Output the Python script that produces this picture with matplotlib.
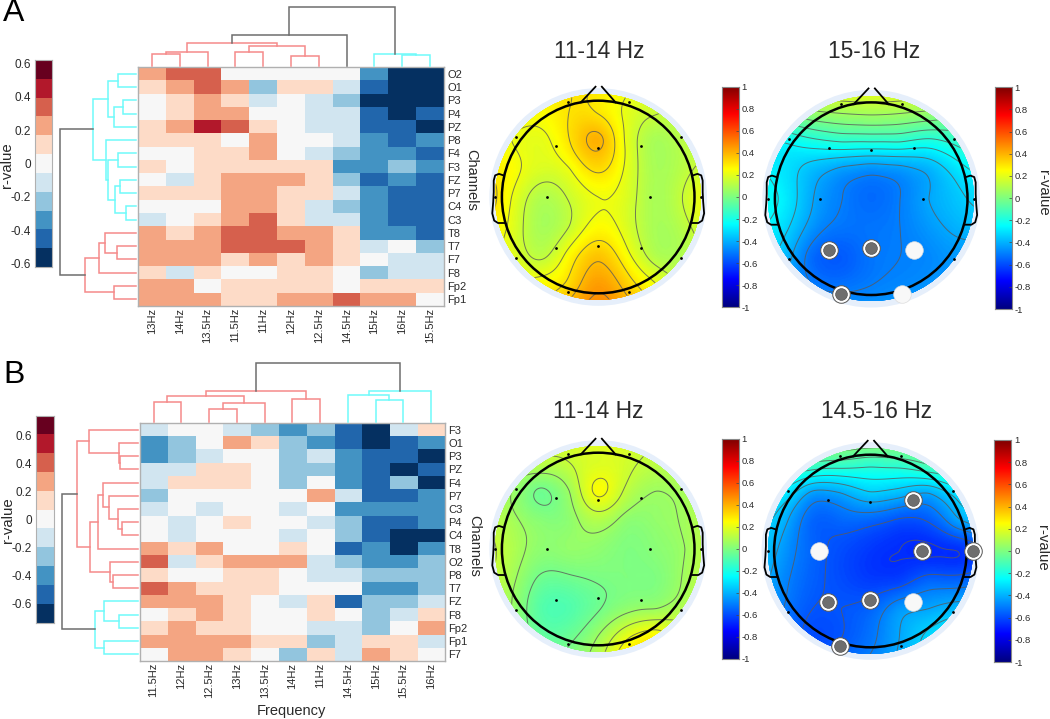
import numpy as np
import matplotlib
matplotlib.use("Agg")
import matplotlib.pyplot as plt
from matplotlib.colors import ListedColormap, BoundaryNorm, LinearSegmentedColormap
from matplotlib.patches import Ellipse

plt.rcParams['font.family'] = ['Liberation Sans', 'DejaVu Sans']

W, H = 1050, 719
# ---------------------------------------------------------------- data
LEVEL_COLORS = ['#053061', '#2166ac', '#4393c3', '#92c5de', '#d1e5f0', '#f7f7f7',
                '#fddbc7', '#f4a582', '#d6604d', '#b2182b', '#67001f']

cols_a = ['13Hz', '14Hz', '13.5Hz', '11.5Hz', '11Hz', '12Hz', '12.5Hz', '14.5Hz', '15Hz', '16Hz', '15.5Hz']
rows_a = ['O2', 'O1', 'P3', 'P4', 'PZ', 'P8', 'F4', 'F3', 'FZ', 'P7', 'C4', 'C3', 'T8', 'T7', 'F7', 'F8', 'Fp2', 'Fp1']
heat_a = [
    [2, 3, 3, 0, 0, 0, 0, 0, -3, -5, -5],
    [1, 2, 3, 2, -2, 1, 1, -1, -4, -5, -5],
    [0, 1, 2, 1, -1, 0, -1, -2, -5, -5, -5],
    [0, 1, 2, 2, 0, 0, -1, -1, -4, -5, -4],
    [1, 2, 4, 3, 1, 0, -1, -1, -4, -4, -5],
    [1, 1, 1, 0, 2, 0, 0, -1, -3, -4, -3],
    [0, 0, 1, 1, 2, 0, -1, -2, -3, -3, -4],
    [1, 0, 1, 1, 1, 1, 1, -3, -3, -2, -3],
    [0, -1, 1, 2, 2, 2, 1, -2, -4, -3, -4],
    [1, 1, 1, 2, 2, 1, 1, -1, -3, -4, -4],
    [0, 0, 0, 2, 2, 1, -1, -2, -3, -4, -4],
    [-1, 0, 1, 2, 3, 1, -1, -1, -3, -4, -4],
    [2, 1, 2, 3, 3, 2, 2, 1, -3, -3, -4],
    [2, 2, 2, 3, 3, 3, 2, 1, -1, 0, -2],
    [2, 2, 2, 1, 2, 1, 2, 1, 0, -1, -1],
    [1, -1, 1, 0, 0, 1, 1, 0, -2, -1, -1],
    [2, 2, 0, 1, 1, 1, 1, 0, 1, 1, 1],
    [2, 2, 2, 1, 1, 2, 2, 3, 2, 2, 0],
]

cols_b = ['11.5Hz', '12Hz', '12.5Hz', '13Hz', '13.5Hz', '14Hz', '11Hz', '14.5Hz', '15Hz', '15.5Hz', '16Hz']
rows_b = ['F3', 'O1', 'P3', 'PZ', 'F4', 'P7', 'C3', 'P4', 'C4', 'T8', 'O2', 'P8', 'T7', 'FZ', 'F8', 'Fp2', 'Fp1', 'F7']
heat_b = [
    [-1, 0, 0, -1, -2, -3, -2, -4, -5, -1, 1],
    [-3, -2, 0, 2, 1, -2, -3, -4, -5, -4, -3],
    [-3, -2, -1, 0, 0, -2, -1, -3, -4, -4, -5],
    [-1, -1, 1, 1, 0, -2, -2, -3, -4, -5, -4],
    [-1, 1, 1, 1, 0, -2, 0, -3, -4, -2, -5],
    [-2, 0, 0, 0, 0, 0, 2, -1, -4, -4, -3],
    [-1, 0, -1, 0, 0, -1, 0, -3, -3, -3, -3],
    [0, -1, 0, 1, 0, 0, -1, -2, -4, -4, -3],
    [0, -1, 0, 0, 0, -1, 0, -2, -4, -5, -5],
    [2, 1, 2, 0, 0, 1, 0, -4, -3, -5, -3],
    [3, -1, 1, 2, 2, 2, -1, -2, -3, -3, -2],
    [1, 0, 0, 1, 1, 0, -1, -1, -2, -2, -2],
    [3, 2, 1, 1, 1, 0, 0, 0, -3, -3, -2],
    [2, 2, 2, 1, 0, -1, 1, -4, -2, -2, -1],
    [0, 1, 2, 1, 0, 0, 1, 0, -2, -1, 1],
    [1, 2, 1, 1, 0, 0, -1, -1, -2, 0, 2],
    [2, 2, 2, 2, 1, 1, -2, -1, 1, 1, -1],
    [0, 2, 2, 1, 0, -2, 1, -1, 2, 1, 0],
]

# dendrograms: (height, colour, left, right); an int is a leaf position
K, R_, C_ = '#6e6e6e', '#f58a8a', '#6ffafa'
tree_top_a = (59, K,
              (31, K,
               (22.5, R_, (14, R_, (11.5, R_, 0, 1), 2),
                (20, R_, (13.5, R_, 3, 4), (10, R_, 5, 6))),
               7),
              (11.5, C_, 8, (10.5, C_, 9, 10)))
tree_left_a = (76, K,
               (42.7, C_,
                (27.7, C_, (17.7, C_, 0, 1), (21.7, C_, (12.7, C_, 2, 3), 4)),
                (30, C_, 5,
                 (27.7, C_, (17.7, C_, 6, 7),
                  (21, C_, (16, C_, 8, 9), (10, C_, 10, 11))))),
               (51, R_,
                (37.3, R_, (30.7, R_, 12, (18.7, R_, 13, 14)), 15),
                (22, R_, 16, 17)))
tree_top_b = (59, K,
              (30.7, R_,
               (25.7, R_, (19.7, R_, 0, 1),
                (19, R_, (12.3, R_, 2, 3), 4)),
               (23, R_, 5, 6)),
              (30.7, C_, (26.7, C_, 7, (21.3, C_, 8, 9)), 10))
tree_left_b = (75.7, K,
               (61, R_,
                (49, R_, 0, (19, R_, 1, (17.3, R_, 2, 3))),
                (47.3, R_,
                 (39.7, R_,
                  (35, R_, 4, (29, R_, 5, (20, R_, 6, (15.7, R_, 7, 8)))),
                  9),
                 (27.3, R_, 10, (24.7, R_, 11, 12)))),
               (42.3, C_,
                (34, C_, 13, (19, C_, 14, 15)),
                (34, C_, 16, 17)))

# scalp maps: r-values on a coarse grid (top row first)
grid_axis = [-1.2, -0.9, -0.6, -0.3, 0.0, 0.3, 0.6, 0.9, 1.2]
topo_a1 = [
    [.22, .24, .26, .30, .30, .24, .18, .14, .13],
    [.23, .25, .25, .30, .29, .20, .15, .13, .13],
    [.25, .22, .20, .30, .40, .20, .08, .12, .14],
    [.29, .25, .18, .22, .32, .20, .08, .12, .17],
    [.36, .22, .10, .15, .22, .18, .08, .15, .26],
    [.30, .20, .08, .14, .25, .18, .08, .12, .22],
    [.24, .20, .12, .25, .36, .24, .10, .10, .16],
    [.25, .24, .25, .32, .44, .34, .22, .13, .15],
    [.30, .30, .32, .42, .50, .42, .30, .18, .18],
]
topo_a2 = [
    [.20, .20, .22, .24, .24, .24, .22, .20, .20],
    [-.10, .00, .05, .07, .08, .07, .05, .00, -.10],
    [-.25, -.25, -.20, -.17, -.17, -.17, -.20, -.15, -.10],
    [-.25, -.30, -.38, -.44, -.47, -.45, -.40, -.30, -.22],
    [-.22, -.28, -.42, -.50, -.54, -.50, -.42, -.36, -.30],
    [-.25, -.32, -.46, -.52, -.52, -.50, -.45, -.40, -.38],
    [-.30, -.38, -.54, -.57, -.52, -.50, -.48, -.45, -.45],
    [-.38, -.42, -.50, -.52, -.50, -.48, -.46, -.44, -.46],
    [-.40, -.42, -.42, -.44, -.44, -.43, -.42, -.40, -.40],
]
topo_b1 = [
    [.16, .16, .17, .18, .20, .18, .14, .12, .12],
    [.16, .12, .12, .14, .18, .16, .12, .12, .12],
    [.14, .06, -.03, .06, .24, .12, .06, .08, .12],
    [.14, .08, .02, .03, .10, .03, .04, .07, .13],
    [.17, .10, .03, .04, .03, .00, .02, .06, .15],
    [.16, .08, -.03, -.03, -.01, .00, .00, .07, .15],
    [.15, .06, -.08, -.09, -.03, .03, .05, .10, .15],
    [.14, .06, -.05, -.04, .06, .20, .26, .18, .15],
    [.14, .08, .00, .02, .12, .30, .34, .20, .15],
]
topo_b2 = [
    [.12, .10, .10, .10, .08, .08, .05, .05, .05],
    [-.05, -.08, -.12, -.14, -.16, -.15, -.10, -.05, .00],
    [-.22, -.28, -.44, -.42, -.35, -.38, -.42, -.30, -.15],
    [-.28, -.40, -.55, -.55, -.56, -.60, -.58, -.45, -.35],
    [-.32, -.45, -.55, -.60, -.64, -.66, -.67, -.66, -.60],
    [-.36, -.48, -.56, -.60, -.63, -.62, -.55, -.55, -.50],
    [-.38, -.50, -.58, -.58, -.55, -.45, -.42, -.38, -.38],
    [-.42, -.52, -.60, -.58, -.52, -.42, -.32, -.25, -.22],
    [-.42, -.48, -.55, -.52, -.48, -.40, -.30, -.22, -.20],
]
# electrode positions on the head (head radius = 1)
electrodes = {
    'Fp1': (-.315, .986), 'Fp2': (.315, .986), 'F7': (-.855, .625), 'F3': (-.44, .53),
    'FZ': (0, .507), 'F4': (.44, .53), 'F8': (.855, .625), 'T7': (-1.067, 0),
    'C3': (-.535, 0), 'C4': (.535, 0), 'T8': (1.067, 0), 'P3': (-.44, -.53),
    'PZ': (0, -.51), 'P4': (.44, -.53), 'P7': (-.855, -.63), 'P8': (.855, -.63),
    'O1': (-.315, -.986), 'O2': (.315, -.986),
}
sig_a2_grey = ['P3', 'PZ', 'O1']
sig_a2_white = ['P4', 'O2']
sig_b2_grey = ['F4', 'C4', 'T8', 'P3', 'PZ', 'O1']
sig_b2_white = ['C3', 'P4']
topo_ticks = [1, .8, .6, .4, .2, 0, -.2, -.4, -.6, -.8, -1]
topo_ticklabels = ['1', '0.8', '0.6', '0.4', '0.2', '0', '-0.2', '-0.4', '-0.6', '-0.8', '-1']
heat_cb_ticks = [.6, .4, .2, 0, -.2, -.4, -.6]
heat_cb_labels = ['0.6', '0.4', '0.2', '0', '-0.2', '-0.4', '-0.6']
# head outline pieces
nose_left = ([-.18, -.028], [.983, 1.145])
nose_right = ([.18, .038], [.983, 1.145])
ear_x = [.985, 1.03, 1.07, 1.085, 1.085, 1.09, 1.10, 1.08, 1.04, .975]
ear_y = [.225, .24, .225, .17, .05, -.05, -.17, -.245, -.27, -.27]
scalp_anchors = [(0.0, (0, 0, .5)), (.125, (0, 0, 1)), (.375, (0, 1, 1)), (.5, (.5, 1, .5)),
                 (.625, (1, 1, 0)), (.875, (1, 0, 0)), (1.0, (.5, 0, 0))]

# ---------------------------------------------------------------- helpers
fig = plt.figure(figsize=(W / 100, H / 100), dpi=100, facecolor='white')
TXT = '#2a2a2a'
GREY = '#b0b0b0'
scalp_cmap = LinearSegmentedColormap.from_list('scalp', scalp_anchors, N=256)


def axpx(x0, y0, x1, y1):
    return fig.add_axes([x0 / W, 1 - y1 / H, (x1 - x0) / W, (y1 - y0) / H])


def ftext(x, y, s, **kw):
    kw.setdefault('ha', 'center')
    kw.setdefault('va', 'center')
    kw.setdefault('color', TXT)
    fig.text(x / W, 1 - y / H, s, **kw)


def walk(node, links):
    if not isinstance(node, tuple):
        return node + 0.5, 0.0
    h, col, left, right = node
    pl, hl = walk(left, links)
    pr, hr = walk(right, links)
    links.append(([pl, pl, pr, pr], [hl, h, h, hr], col))
    return (pl + pr) / 2, h


def dendro(box, tree, n, vertical_leaves):
    ax = axpx(*box)
    ax.axis('off')
    links = []
    walk(tree, links)
    for pos, hgt, col in links:
        if vertical_leaves:
            ax.plot(pos, hgt, color=col, lw=1.1, solid_joinstyle='miter', clip_on=False)
        else:
            ax.plot(hgt, pos, color=col, lw=1.1, solid_joinstyle='miter', clip_on=False)
    if vertical_leaves:
        ax.set_xlim(0, n)
        ax.set_ylim(0, box[3] - box[1])
    else:
        ax.set_ylim(n, 0)
        ax.set_xlim(box[2] - box[0], 0)


level_cmap = ListedColormap(LEVEL_COLORS)
level_norm = BoundaryNorm(np.arange(-5.5, 6.5, 1), 11)


def heatmap(box, data, rows, cols):
    ax = axpx(*box)
    ax.imshow(np.array(data), cmap=level_cmap, norm=level_norm, aspect='auto',
              interpolation='nearest', extent=(0, len(cols), len(rows), 0))
    ax.set_xticks(np.arange(len(cols)) + .5, cols, rotation=90, fontsize=8, color=TXT)
    ax.set_yticks(np.arange(len(rows)) + .5, rows, fontsize=8, color=TXT)
    ax.yaxis.tick_right()
    ax.tick_params(axis='x', length=0, pad=1.5)
    ax.tick_params(axis='y', length=0, pad=2.5)
    for s in ax.spines.values():
        s.set_color(GREY)
        s.set_linewidth(1)
    return ax


def heat_colorbar(box, rmax):
    ax = axpx(*box)
    ax.imshow(np.arange(5, -6, -1).reshape(-1, 1), cmap=level_cmap, norm=level_norm,
              aspect='auto', interpolation='nearest', extent=(0, 1, -rmax, rmax))
    ax.set_xticks([])
    ax.set_yticks(heat_cb_ticks, heat_cb_labels, fontsize=8.5, color=TXT)
    ax.tick_params(length=0, pad=3)
    for s in ax.spines.values():
        s.set_color(GREY)


def tps(values, n=241):
    gx, gy = np.meshgrid(grid_axis, grid_axis[::-1])
    px, py = gx.ravel(), gy.ravel()
    v = np.array(values, float).ravel()

    def kern(d2):
        return np.where(d2 > 0, d2 * np.log(np.maximum(d2, 1e-12)) / 2, 0.0)

    d2 = (px[:, None] - px[None, :]) ** 2 + (py[:, None] - py[None, :]) ** 2
    P = np.c_[np.ones_like(px), px, py]
    m = len(v)
    A = np.block([[kern(d2), P], [P.T, np.zeros((3, 3))]])
    w = np.linalg.solve(A, np.r_[v, np.zeros(3)])
    xs = np.linspace(-1.2, 1.2, n)
    X, Y = np.meshgrid(xs, xs)
    D2 = (X.ravel()[:, None] - px[None, :]) ** 2 + (Y.ravel()[:, None] - py[None, :]) ** 2
    Z = kern(D2) @ w[:m] + w[m] + w[m + 1] * X.ravel() + w[m + 2] * Y.ravel()
    return X, Y, Z.reshape(X.shape)


def topo(cx, cy, values, grey=(), white=()):
    r = 96.3
    ax = axpx(cx - 1.2 * r, cy - 1.2 * r, cx + 1.2 * r, cy + 1.2 * r)
    ax.set_xlim(-1.2, 1.2)
    ax.set_ylim(-1.2, 1.2)
    ax.axis('off')
    ax.add_patch(Ellipse((0, 0), 2 * 1.13, 2 * 1.13, fc='#e6effb', ec='none', zorder=0))
    field = Ellipse((0, 0), 2 * 1.067, 2 * 1.067, fc='none', ec='none', zorder=1)
    ax.add_patch(field)
    X, Y, Z = tps(values)
    mesh = ax.pcolormesh(X, Y, Z, cmap=scalp_cmap, vmin=-1, vmax=1, shading='gouraud', zorder=1)
    mesh.set_clip_path(field)
    cs = ax.contour(X, Y, Z, levels=np.arange(-.98, 1, .08), colors='#5a5a5a',
                    linewidths=.7, linestyles='solid', alpha=.8, zorder=2)
    cs.set_clip_path(field)
    ax.add_patch(Ellipse((0, 0), 2, 2, fc='none', ec='black', lw=1.8, zorder=3))
    ax.plot(*nose_left, color='black', lw=1.3, zorder=3)
    ax.plot(*nose_right, color='black', lw=1.3, zorder=3)
    for sign in (-1, 1):
        ax.plot(sign * np.array(ear_x), ear_y, color='black', lw=1.3, zorder=3, clip_on=False)
    ex = [p[0] for p in electrodes.values()]
    ey = [p[1] for p in electrodes.values()]
    ax.scatter(ex, ey, s=4, c='black', lw=0, zorder=4, clip_on=False)
    for name in white:
        x, y = electrodes[name]
        ax.scatter(x, y, s=160, c='#f8f8f8', ec='#dddddd', lw=.5, zorder=5, clip_on=False)
    for name in grey:
        x, y = electrodes[name]
        ax.scatter(x, y, s=160, c='white', ec='#555555', lw=.7, zorder=5, clip_on=False)
        ax.scatter(x, y, s=72, c='#6e6e6e', ec='#444444', lw=.4, zorder=6, clip_on=False)


def topo_colorbar(box):
    ax = axpx(*box)
    ax.imshow(np.linspace(1, -1, 256).reshape(-1, 1), cmap=scalp_cmap, vmin=-1, vmax=1,
              aspect='auto', extent=(0, 1, -1, 1))
    ax.set_xticks([])
    ax.yaxis.tick_right()
    ax.set_yticks(topo_ticks, topo_ticklabels, fontsize=6.8, color=TXT)
    ax.tick_params(length=2, width=.5, direction='in', color='#444444', pad=2)
    for s in ax.spines.values():
        s.set_color('#888888')
        s.set_linewidth(.8)


# ---------------------------------------------------------------- panel A
heatmap((138, 67.3, 444, 305.7), heat_a, rows_a, cols_a)
dendro((138, 5.7, 444, 65.7), tree_top_a, 11, True)
dendro((58, 67.3, 136, 305.7), tree_left_a, 18, False)
heat_colorbar((35, 60, 52, 267), .618)
ftext(7, 165, 'r-value', rotation=90, fontsize=10.8)
ftext(471, 180, 'Channels', rotation=-90, fontsize=10.5)
ftext(14, 13, 'A', fontsize=23, color='black')

topo(598.2, 197, topo_a1)
topo(871.2, 198.7, topo_a2, sig_a2_grey, sig_a2_white)
topo_colorbar((721.5, 86.7, 739, 307.3))
topo_colorbar((994.6, 87.3, 1012, 309))
ftext(599, 51, '11-14 Hz', fontsize=16.4)
ftext(874, 51, '15-16 Hz', fontsize=16.4)
ftext(1043, 193, 'r-value', rotation=-90, fontsize=10.8)

# ---------------------------------------------------------------- panel B
heatmap((139.7, 423.3, 445, 660.7), heat_b, rows_b, cols_b)
dendro((139.7, 361.7, 445, 421.7), tree_top_b, 11, True)
dendro((60, 423.3, 137.5, 660.7), tree_left_b, 18, False)
heat_colorbar((36, 415.7, 54, 623), .74)
ftext(8, 520, 'r-value', rotation=90, fontsize=10.8)
ftext(474, 546, 'Channels', rotation=-90, fontsize=10.5)
ftext(291, 711, 'Frequency', fontsize=10.5)
ftext(14, 375, 'B', fontsize=23, color='black')

topo(598.2, 549, topo_b1)
topo(870.4, 551, topo_b2, sig_b2_grey, sig_b2_white)
topo_colorbar((721.5, 439, 739, 659))
topo_colorbar((993.6, 440, 1011.4, 662))
ftext(598.6, 411, '11-14 Hz', fontsize=16.4)
ftext(876.8, 411, '14.5-16 Hz', fontsize=16.4)
ftext(1042, 548, 'r-value', rotation=-90, fontsize=10.8)

fig.savefig('out.png', dpi=100, facecolor='white')
